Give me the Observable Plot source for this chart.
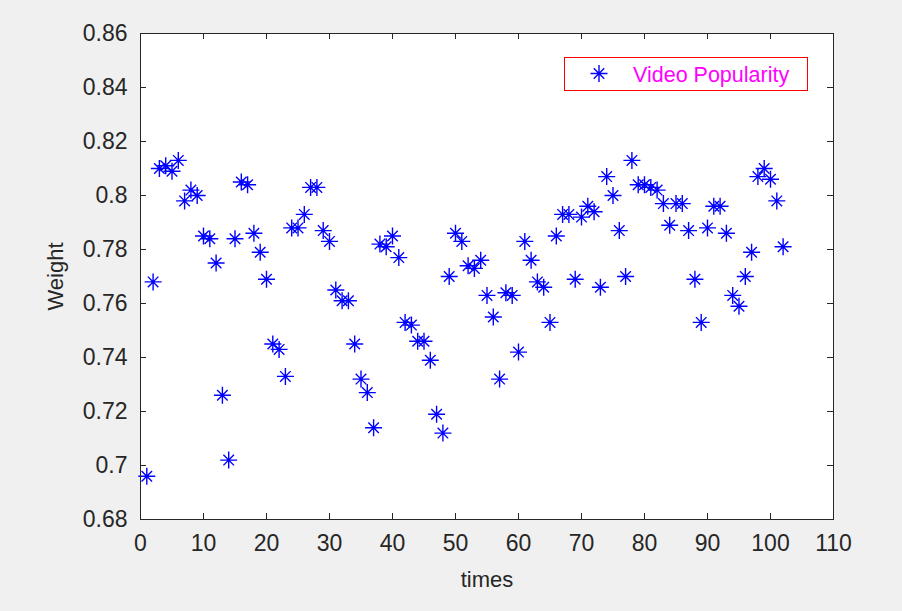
<!DOCTYPE html>
<html>
<head>
<meta charset="utf-8">
<script src="https://cdn.jsdelivr.net/npm/d3@7"></script>
<script src="https://cdn.jsdelivr.net/npm/@observablehq/plot@0.6"></script>
<style>
  html, body { margin: 0; padding: 0; background: #f0f0f0; }
  #chart { width: 902px; height: 611px; position: relative; }
</style>
</head>
<body>
<div id="chart"></div>
<script>
const times = [1,2,3,4,5,6,7,8,9,10,11,12,13,14,15,16,17,18,19,20,21,22,23,24,25,26,27,28,29,30,
  31,32,33,34,35,36,37,38,39,40,41,42,43,44,45,46,47,48,49,50,51,52,53,54,55,56,57,58,59,60,
  61,62,63,64,65,66,67,68,69,70,71,72,73,74,75,76,77,78,79,80,81,82,83,84,85,86,87,88,89,90,
  91,92,93,94,95,96,97,98,99,100,101,102];
const weight = [0.696,0.768,0.810,0.811,0.809,0.813,0.798,0.802,0.800,0.785,
  0.784,0.775,0.726,0.702,0.784,0.805,0.804,0.786,0.779,0.769,
  0.745,0.743,0.733,0.788,0.788,0.793,0.803,0.803,0.787,0.783,
  0.765,0.761,0.761,0.745,0.732,0.727,0.714,0.782,0.781,0.785,
  0.777,0.753,0.752,0.746,0.746,0.739,0.719,0.712,0.770,0.786,
  0.783,0.774,0.773,0.776,0.763,0.755,0.732,0.764,0.763,0.742,
  0.783,0.776,0.768,0.766,0.753,0.785,0.793,0.793,0.769,0.792,
  0.796,0.794,0.766,0.807,0.800,0.787,0.770,0.813,0.804,0.804,
  0.803,0.802,0.797,0.789,0.797,0.797,0.787,0.769,0.753,0.788,
  0.796,0.796,0.786,0.763,0.759,0.770,0.779,0.807,0.810,0.806,
  0.798,0.781];
const xTicks = [0,10,20,30,40,50,60,70,80,90,100,110];
const yTicks = [0.68,0.70,0.72,0.74,0.76,0.78,0.80,0.82,0.84,0.86];
const seriesName = "Video Popularity";
const xLabel = "times";
const yLabel = "Weight";

const data = times.map((t, i) => ({time: t, weight: weight[i]}));
const fmt = d => String(+d.toFixed(2));

const asterisk = {
  draw(ctx, size) {
    const r = Math.sqrt(size / Math.PI);
    const s = r * 0.62;
    ctx.moveTo(-r, 0); ctx.lineTo(r, 0);
    ctx.moveTo(0, -r); ctx.lineTo(0, r);
    ctx.moveTo(-s, -s); ctx.lineTo(s, s);
    ctx.moveTo(-s, s); ctx.lineTo(s, -s);
  }
};

const W = 902, H = 611, ML = 140, MR = 69, MT = 33, MB = 92;
const innerW = W - ML - MR, innerH = H - MT - MB, tickLen = 6;
const axisColor = "#262626";
const font = "'Liberation Sans', Arial, sans-serif";

const chart = Plot.plot({
  width: W,
  height: H,
  marginLeft: ML,
  marginRight: MR,
  marginTop: MT,
  marginBottom: MB,
  style: {background: "transparent", fontFamily: font, fontSize: "23px", color: axisColor},
  x: {domain: [0, 110], ticks: xTicks},
  y: {domain: [0.68, 0.86], ticks: yTicks},
  marks: [
    Plot.frame({fill: "white", stroke: null}),
    Plot.axisX({anchor: "bottom", ticks: xTicks, tickSize: 0, tickPadding: 15, tickFormat: fmt, label: null, fontSize: 23, fill: axisColor}),
    Plot.axisY({anchor: "left", ticks: yTicks, tickSize: 0, tickPadding: 13, tickFormat: fmt, label: null, fontSize: 23, fill: axisColor}),
    // inward tick marks on all four sides (MATLAB box style)
    Plot.ruleX(xTicks, {x: d => d, insetTop: innerH - tickLen, stroke: axisColor}),
    Plot.ruleX(xTicks, {x: d => d, insetBottom: innerH - tickLen, stroke: axisColor}),
    Plot.ruleY(yTicks, {y: d => d, insetRight: innerW - tickLen, stroke: axisColor}),
    Plot.ruleY(yTicks, {y: d => d, insetLeft: innerW - tickLen, stroke: axisColor}),
    Plot.text([xLabel], {frameAnchor: "bottom", dy: 60, text: d => d, fontSize: 22, fill: axisColor, lineAnchor: "middle", textAnchor: "middle"}),
    Plot.text([yLabel], {frameAnchor: "left", dx: -85, text: d => d, fontSize: 22, fill: axisColor, rotate: -90, lineAnchor: "middle", textAnchor: "middle"}),
    Plot.dot(data, {x: "time", y: "weight", symbol: asterisk, r: 8.5, stroke: "#0000ff", strokeWidth: 1.4, fill: "none"}),
    Plot.frame({stroke: axisColor, strokeWidth: 1})
  ]
});

// Legend (MATLAB-style box in the top-right of the axes)
const svg = d3.select(chart);
const lg = svg.append("g").attr("class", "legend");
lg.append("rect").attr("x", 564.5).attr("y", 57.5).attr("width", 243).attr("height", 33)
  .attr("fill", "white").attr("stroke", "#ff0000").attr("stroke-width", 1);
lg.append("path").attr("transform", "translate(599,73.5)")
  .attr("d", d3.symbol(asterisk, Math.PI * 8.5 * 8.5)())
  .attr("fill", "none").attr("stroke", "#0000ff").attr("stroke-width", 1.4);
lg.append("text").attr("x", 633).attr("y", 74).attr("dy", "0.35em")
  .attr("text-anchor", "start")
  .attr("fill", "#ff00ff").attr("font-size", 21.5).attr("font-family", font)
  .text(seriesName);

document.getElementById("chart").appendChild(chart);
</script>
</body>
</html>
